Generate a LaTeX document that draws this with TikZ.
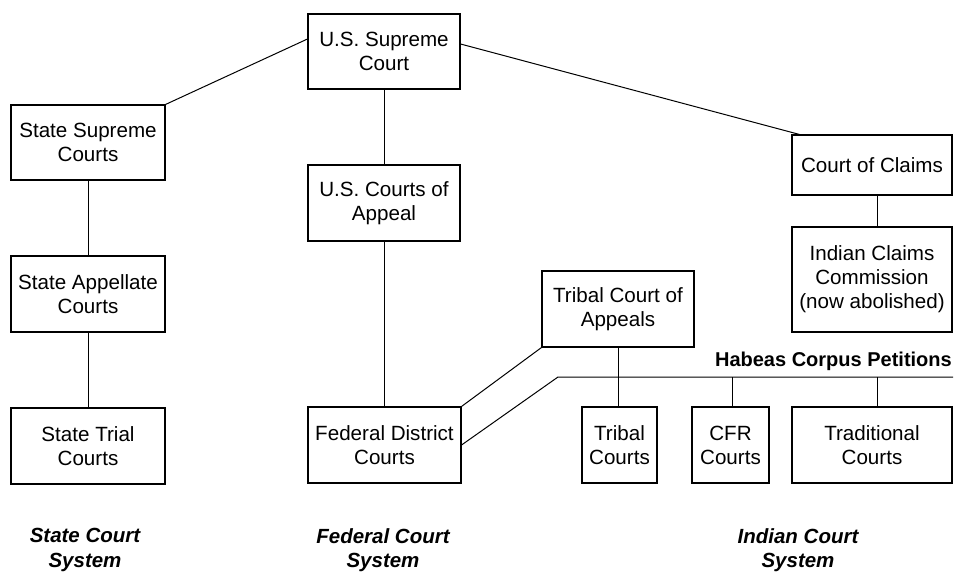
\documentclass[tikz,border=0pt]{standalone}
\usepackage{fontspec}
\setmainfont{Liberation Sans}
\begin{document}
\begin{tikzpicture}[x=1pt,y=-1pt,
  box/.style={draw, line width=1.1pt, inner sep=0pt, align=center,
    font=\fontsize{20.6}{24}\selectfont},
  conn/.style={line width=1pt},
  syslabel/.style={align=center, inner sep=0pt,
    font=\fontsize{20.5}{24.5}\selectfont\bfseries\itshape}]
\useasboundingbox (0,0) rectangle (954,573);
% Federal
\node[box, minimum width=152pt, minimum height=75pt] (sc) at (384,51.5) {U.S. Supreme\\Court};
\node[box, minimum width=152pt, minimum height=76pt] (coa) at (384,203) {U.S. Courts of\\Appeal};
\node[box, minimum width=153pt, minimum height=76pt] (fdc) at (384.5,445) {Federal District\\Courts};
% State
\node[box, minimum width=154pt, minimum height=75pt] (ssc) at (88,142.5) {State Supreme\\Courts};
\node[box, minimum width=154pt, minimum height=76pt] (sac) at (88,294) {State Appellate\\Courts};
\node[box, minimum width=154pt, minimum height=76pt] (stc) at (88,446) {State Trial\\Courts};
% Indian
\node[box, minimum width=160pt, minimum height=60pt] (coc) at (872,165) {Court of Claims};
\node[box, minimum width=160pt, minimum height=105pt] (icc) at (872,279.5) {Indian Claims\\Commission\\(now abolished)};
\node[box, minimum width=152pt, minimum height=76pt] (tca) at (618,309) {Tribal Court of\\Appeals};
\node[box, minimum width=75pt, minimum height=76pt] (tc) at (619.5,445) {Tribal\\Courts};
\node[box, minimum width=77pt, minimum height=76pt] (cfr) at (730.5,445) {CFR\\Courts};
\node[box, minimum width=160pt, minimum height=76pt] (trad) at (872,445) {Traditional\\Courts};
% Habeas label
\node[anchor=base east, inner sep=0pt, font=\fontsize{20}{24}\selectfont\bfseries] (hab) at (952,366) {Habeas Corpus Petitions};
\coordinate (h1) at (558,377);
\coordinate (h2) at (953,377);
% System labels
\node[syslabel] (lstate) at (85,550) {State Court\\System};
\node[syslabel] (lfed) at (383,550) {Federal Court\\System};
\node[syslabel] (lind) at (798,550) {Indian Court\\System};
% connectors
\draw[conn] ([yshift=12.5pt]sc.west) -- (ssc.north east);
\draw[conn] ([yshift=7.5pt]sc.east) -- ([xshift=8pt]coc.north west);
\draw[conn] (sc.south) -- (coa.north);
\draw[conn] (coa.south) -- (coa.south |- fdc.north);
\draw[conn] (ssc.south) -- (sac.north);
\draw[conn] (sac.south) -- (stc.north);
\draw[conn] ([xshift=5pt]coc.south) -- ([xshift=5pt]icc.north);
\draw[conn] (tca.south west) -- (fdc.north east);
\draw[conn] (tca.south) -- (tca.south |- tc.north);
\draw[conn] (fdc.east) -- (h1) -- (h2);
\draw[conn] ([xshift=1.5pt]cfr.north) -- ([xshift=1.5pt]cfr.north |- h1);
\draw[conn] ([xshift=5pt]trad.north) -- ([xshift=5pt]trad.north |- h1);
\end{tikzpicture}
\end{document}
